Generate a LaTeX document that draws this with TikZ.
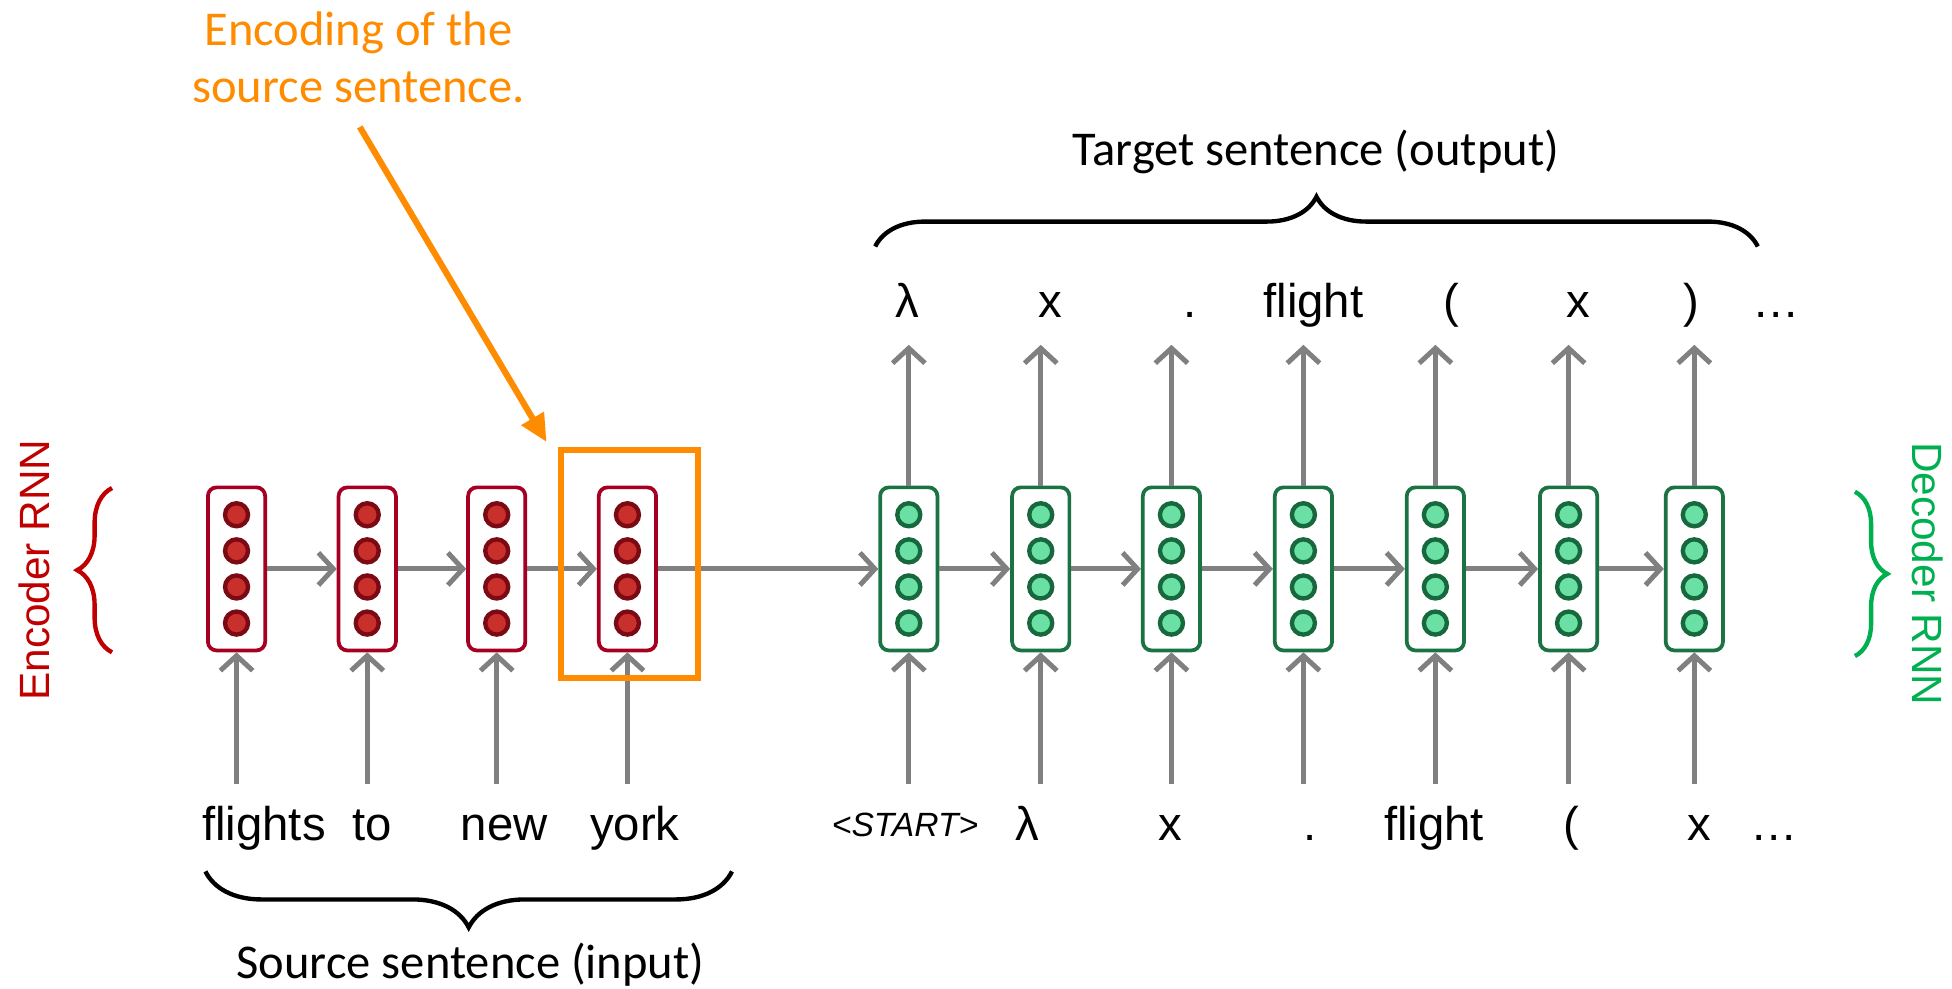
\documentclass[tikz,border=0pt]{standalone}
\usepackage{fontspec}
\setmainfont{Liberation Sans}
\newfontfamily\calib{Carlito}
\usetikzlibrary{arrows.meta,decorations.pathreplacing,calc}

\definecolor{encline}{HTML}{A50021}
\definecolor{encfill}{HTML}{C9302C}
\definecolor{encdot}{HTML}{7B0A14}
\definecolor{decline}{HTML}{1B7343}
\definecolor{decfill}{HTML}{6BE0A5}
\definecolor{decdot}{HTML}{17683D}
\definecolor{flow}{HTML}{808080}
\definecolor{note}{HTML}{FF8C00}
\definecolor{enclabel}{HTML}{C00000}
\definecolor{declabel}{HTML}{00B050}

\begin{document}
\begin{tikzpicture}[x=1pt,y=-1pt,
  cell/.style={draw, line width=3pt, rounded corners=7pt, fill=white,
    minimum width=46pt, minimum height=131pt, inner sep=0pt},
  enccell/.style={cell, draw=encline},
  deccell/.style={cell, draw=decline},
  unit/.style={circle, line width=3.5pt, minimum size=18.5pt, inner sep=0pt},
  encunit/.style={unit, draw=encdot, fill=encfill},
  decunit/.style={unit, draw=decdot, fill=decfill},
  flowarrow/.style={draw=flow, line width=4pt,
    -{Straight Barb[length=12pt,width=26pt]}},
  word/.style={anchor=base, inner sep=0pt, font=\fontsize{38}{44}\selectfont},
  smallword/.style={anchor=base, inner sep=0pt, font=\fontsize{27}{32}\selectfont\itshape},
  caption/.style={inner sep=0pt, font=\calib\fontsize{39}{46}\selectfont},
  bracepath/.style={decorate, line width=3.5pt},
  sidelabel/.style={inner sep=0pt, font=\fontsize{34}{40}\selectfont}
]
\useasboundingbox (0,0) rectangle (1568,794);

% encoder cells
\foreach \i/\x in {1/190,2/295,3/399,4/504} {
  \node[enccell] (e\i) at (\x,457) {};
  \foreach \j/\y in {1/413.5,2/442.5,3/471.5,4/500.5}
    \node[encunit] (e\i-\j) at (\x,\y) {};
  \coordinate (e\i-in) at (\x,630);
  \draw[flowarrow] (e\i-in) -- (e\i.south);
}

% decoder cells
\foreach \i/\x in {1/730,2/836,3/941,4/1047,5/1153,6/1260,7/1361} {
  \node[deccell] (d\i) at (\x,457) {};
  \foreach \j/\y in {1/413.5,2/442.5,3/471.5,4/500.5}
    \node[decunit] (d\i-\j) at (\x,\y) {};
  \coordinate (d\i-in) at (\x,630);
  \coordinate (d\i-out) at (\x,277);
  \draw[flowarrow] (d\i-in) -- (d\i.south);
  \draw[flowarrow] (d\i.north) -- (d\i-out);
}

% recurrent connections
\foreach \a/\b in {1/2,2/3,3/4}
  \draw[flowarrow] (e\a.east) -- (e\b.west);
\draw[flowarrow] (e4.east) -- (d1.west);
\foreach \a/\b in {1/2,2/3,3/4,4/5,5/6,6/7}
  \draw[flowarrow] (d\a.east) -- (d\b.west);

% source words
\node[word] (w1) at (212,675) {flights};
\node[word] (w2) at (299,675) {to};
\node[word] (w3) at (405,675) {new};
\node[word] (w4) at (510,675) {york};

% decoder inputs
\node[smallword] (u1) at (727,672) {<START>};
\node[word] (u2) at (825,675) {λ};
\node[word] (u3) at (940,675) {x};
\node[word] (u4) at (1052,675) {.};
\node[word] (u5) at (1152,675) {flight};
\node[word] (u6) at (1262,675) {(};
\node[word] (u7) at (1365,675) {x};
\node[word] (u8) at (1425,675) {…};

% decoder outputs
\node[word] (o1) at (729,255) {λ};
\node[word] (o2) at (844,255) {x};
\node[word] (o3) at (956,255) {.};
\node[word] (o4) at (1055,255) {flight};
\node[word] (o5) at (1166,255) {(};
\node[word] (o6) at (1268,255) {x};
\node[word] (o7) at (1359,255) {)};
\node[word] (o8) at (1427,255) {…};

% braces and their captions
\draw[bracepath, decoration={brace, amplitude=40pt}] (703,198) -- (1412,198);
\node[caption] (tgt) at (1057,122) {Target sentence (output)};
\draw[bracepath, decoration={brace, amplitude=45pt}] (588,700) -- (165,700);
\node[caption] (src) at (378,775) {Source sentence (input)};

\draw[bracepath, draw=enclabel, decoration={brace, amplitude=28pt}] (90,524) -- (90,392);
\node[sidelabel, rotate=90, text=enclabel] (enclab) at (28,458) {Encoder RNN};
\draw[bracepath, draw=declabel, decoration={brace, amplitude=26pt}] (1490,395) -- (1490,527);
\node[sidelabel, rotate=-90, text=declabel] (declab) at (1548,461) {Decoder RNN};

% highlighted final encoder state
\node[draw=note, line width=5pt, minimum width=110pt, minimum height=183pt,
  inner sep=0pt] (focus) at (505.5,453) {};
\node[caption, text=note, align=center] (enc) at (288,46)
  {Encoding of the\\source sentence.};
\coordinate (notetail) at (289,102);
\draw[note, line width=5pt, -{Triangle[length=22pt,width=20pt]}]
  (notetail) -- ($(focus.north west)+(-9,-4)$);
\end{tikzpicture}
\end{document}
